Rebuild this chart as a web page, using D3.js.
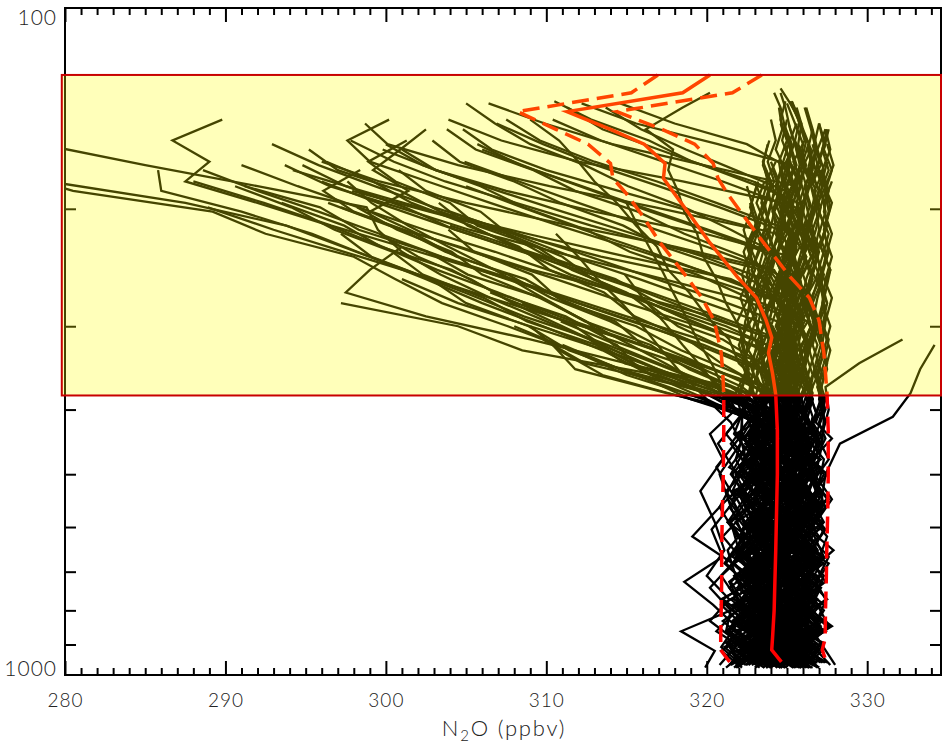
<!DOCTYPE html>
<html>
<head>
<meta charset="utf-8">
<script src="https://cdn.jsdelivr.net/npm/d3@7"></script>
<style>
body { margin: 0; background: #fff; }
text { font-family: Lato, "Open Sans", sans-serif; font-weight: 300; fill: #222; }
</style>
</head>
<body>
<script>
// pressure levels (hPa) of the soundings; profiles cycle through three slightly offset grids
var levelsA = [975, 920, 860, 800, 740, 680, 620, 560, 500, 450, 410, 378, 348, 320, 295, 272, 251, 232, 215, 199, 185, 172, 160, 149, 139, 132];
var levelsB = [966, 895, 830, 770, 710, 650, 590, 530, 475, 435, 400, 370, 341, 314, 290, 267, 247, 228, 212, 196, 182, 170, 158, 147, 138, 131];
var levelsC = [958, 908, 845, 785, 725, 665, 605, 545, 488, 442, 418, 386, 355, 326, 300, 277, 255, 236, 218, 202, 188, 175, 163, 152, 141, 134];

// N2O (ppbv) per profile, one value per level from the surface up; the profile ends where the list ends
var n2oProfiles = [
  // staying at tropospheric values up to the top
  [324.6, 322.9, 325.3, 324.8, 323.1, 325.0, 322.8, 324.9, 326.0, 323.7, 325.0, 324.5, 324.9, 325.3, 324.8, 325.2, 325.6, 325.1, 325.4, 324.9, 325.5, 325.0, 325.3, 324.8],
  [322.1, 321.4, 323.5, 321.7, 322.2, 323.8, 321.3, 322.7, 323.6, 322.0, 323.2, 322.7, 323.0, 323.5, 322.9, 323.3, 322.8, 323.4, 323.0, 323.6, 324.0, 323.5, 323.9],
  [327.1, 325.4, 326.7, 327.3, 325.6, 326.2, 327.4, 325.9, 326.5, 327.2, 326.6, 327.1, 326.8, 326.4, 326.9, 326.6, 327.2, 326.9, 326.5, 327.0, 326.7, 327.3, 326.9, 327.4],
  [325.9, 324.0, 324.9, 326.4, 324.5, 325.7, 323.8, 325.6, 326.3, 324.6, 326.0, 325.5, 325.9, 326.3, 325.8, 326.1, 326.5, 326.0, 326.4, 325.9, 325.6, 326.2, 325.7, 325.9, 325.2, 324.6],
  [323.6, 322.0, 324.4, 323.1, 322.3, 324.6, 322.9, 321.9, 324.1, 323.3, 323.0, 323.6, 323.2, 323.9, 323.4, 323.1, 323.7, 324.1, 323.6, 324.0, 323.7, 324.3],
  [327.4, 326.0, 327.6, 326.9, 325.8, 327.3, 326.5, 327.8, 326.4, 326.9, 327.4, 327.0, 327.3, 327.7, 327.2, 327.5, 327.1, 327.4, 327.8, 327.3, 327.6, 327.2, 327.7, 327.4],
  [321.7, 322.9, 321.2, 321.5, 323.0, 322.4, 321.0, 322.7, 321.6, 323.2, 322.5, 322.0, 322.6, 322.2, 322.4, 322.9, 322.5, 322.8, 323.2, 322.7, 323.1],
  [325.2, 326.4, 324.0, 325.1, 326.2, 324.5, 326.1, 325.4, 324.3, 325.9, 325.3, 325.8, 325.2, 325.5, 326.0, 325.4, 325.7, 325.3, 326.0, 325.6, 325.9, 325.4, 326.1, 325.7, 325.2],
  [323.1, 325.0, 324.2, 322.7, 324.9, 323.6, 325.2, 323.0, 324.4, 324.9, 324.5, 324.0, 324.6, 324.2, 324.5, 325.0, 324.4, 324.8, 325.2, 324.6, 324.9, 325.4, 324.9],
  [326.5, 325.0, 327.2, 326.1, 325.4, 327.0, 325.6, 326.3, 327.3, 325.8, 326.9, 326.4, 326.7, 327.1, 326.6, 326.9, 327.3, 326.7, 327.0, 326.8, 327.4, 326.9, 327.3, 327.0],
  [322.5, 323.8, 321.6, 323.0, 323.9, 322.2, 323.4, 322.0, 323.7, 322.8, 323.3, 322.8, 323.5, 323.0, 323.3, 323.8, 323.2, 323.6, 324.0, 323.4, 323.8, 323.5],
  [326.0, 324.6, 326.8, 325.3, 324.9, 326.6, 325.8, 324.5, 326.4, 325.1, 326.2, 326.6, 326.0, 326.3, 326.8, 326.2, 326.5, 326.9, 326.3, 326.7, 327.0, 326.5, 326.9, 326.6, 326.2],
  [324.3, 325.7, 323.5, 324.8, 325.6, 323.7, 324.6, 325.5, 323.9, 325.0, 325.5, 324.9, 325.2, 325.6, 325.0, 325.3, 325.8, 325.2, 325.6, 326.0, 325.4, 325.8, 325.5, 325.1],
  [321.4, 322.6, 321.0, 322.9, 321.8, 321.3, 322.7, 321.6, 322.5, 321.2, 322.4, 322.7, 322.2, 322.9, 322.5, 322.8, 323.3, 322.7, 323.1, 323.5, 323.0],
  [327.3, 326.2, 327.5, 325.9, 326.8, 327.6, 326.0, 327.2, 326.5, 327.4, 327.0, 327.4, 326.9, 327.3, 327.7, 327.2, 327.4, 327.8, 327.3, 327.6, 327.4, 327.8, 327.3, 327.6],
  [323.0, 324.7, 323.4, 322.6, 324.4, 323.3, 324.8, 322.8, 324.0, 323.5, 324.2, 323.7, 324.0, 324.5, 323.9, 324.2, 324.7, 324.1, 324.5, 324.9, 324.3, 324.7, 325.1, 324.6],
  [326.6, 325.0, 326.1, 326.9, 325.2, 326.4, 325.6, 327.0, 325.3, 326.7, 326.1, 326.6, 326.0, 326.4, 326.8, 326.2, 326.6, 327.0, 326.4, 326.8, 327.1, 326.6],
  [325.0, 323.8, 326.0, 324.7, 323.9, 325.8, 324.2, 325.4, 326.1, 324.4, 325.5, 325.9, 325.3, 325.6, 326.0, 325.5, 325.8, 326.2, 325.6, 326.0, 325.7, 326.1, 325.6, 325.2, 324.9, 324.6],
  [322.2, 320.9, 322.9, 321.6, 322.7, 321.2, 322.4, 323.0, 321.5, 322.6, 323.0, 323.4, 322.8, 323.1, 323.6, 323.0, 323.3, 323.8, 323.2, 323.6, 324.0, 323.5, 323.8],
  [328.0, 327.1, 326.2, 327.4, 326.6, 325.9, 327.3, 326.2, 327.6, 326.8, 327.4, 326.9, 327.3, 327.6, 327.0, 327.4, 327.7, 327.1, 327.4, 327.8, 327.2, 327.5],
  [323.8, 322.3, 324.2, 323.0, 322.5, 324.3, 322.8, 323.9, 324.5, 322.9, 323.9, 323.4, 324.1, 323.7, 324.0, 324.5, 323.9, 324.3, 324.7, 324.1, 324.5, 324.9, 324.3, 324.7, 324.5],
  [326.1, 326.8, 324.8, 325.5, 326.6, 325.1, 326.3, 327.0, 325.4, 326.2, 326.6, 326.1, 326.4, 326.9, 326.3, 326.6, 327.0, 326.4, 326.8, 327.1, 326.5, 326.9, 326.6],
  [324.9, 323.4, 325.5, 324.1, 323.6, 325.3, 324.7, 323.5, 325.2, 324.0, 324.7, 325.2, 324.6, 325.0, 325.4, 324.8, 325.2, 325.6, 325.0, 325.4, 325.7, 325.1, 325.5],
  [322.8, 324.1, 322.4, 323.3, 324.2, 322.6, 323.8, 322.5, 324.0, 323.1, 323.2, 323.7, 323.1, 323.4, 323.9, 323.3, 323.6, 324.1, 323.5, 323.9, 324.2, 323.7],
  [326.4, 325.3, 327.0, 325.7, 326.3, 327.1, 325.5, 326.6, 325.8, 327.0, 326.0, 326.5, 325.9, 326.3, 326.8, 326.2, 326.6, 327.0, 326.4, 326.8, 326.5, 327.1, 326.7, 327.0],
  [325.6, 324.3, 325.0, 326.2, 324.6, 325.3, 326.1, 324.8, 325.7, 324.7, 325.9, 325.4, 326.0, 325.7, 325.3, 325.9, 325.6, 326.2, 325.6, 326.0, 326.4, 325.9, 326.2, 325.7, 325.3],
  [323.3, 324.3, 322.6, 323.8, 322.9, 324.6, 323.7, 322.6, 324.2, 323.4, 323.9, 324.4, 323.8, 324.2, 324.7, 324.1, 324.5, 324.9, 324.3, 324.7, 325.1],
  [327.0, 325.7, 326.5, 327.3, 325.9, 326.9, 327.5, 326.0, 326.8, 327.2, 327.3, 327.0, 327.5, 327.2, 327.4, 327.8, 327.2, 327.6, 327.3, 327.7, 327.4, 327.9, 327.5],
  [324.1, 325.2, 323.2, 324.5, 325.3, 323.9, 324.7, 325.6, 323.8, 324.9, 325.1, 324.8, 325.4, 325.0, 325.3, 325.8, 325.1, 325.5, 325.9, 325.2, 325.6, 326.0, 325.5, 325.8, 325.3],
  [325.5, 326.5, 324.8, 325.8, 326.6, 324.9, 325.7, 326.8, 325.2, 325.9, 325.8, 326.3, 325.6, 326.0, 326.5, 325.9, 326.2, 326.7, 326.1, 326.5, 326.8, 326.3, 326.6],
  [325.8, 323.2, 326.9, 324.1, 322.6, 326.3, 324.9, 322.8, 325.7, 327.0, 324.5, 325.0, 324.3, 324.8, 325.3, 324.6, 325.0, 324.4, 324.9, 325.4, 324.8, 325.2, 324.9],
  [322.8, 325.4, 321.9, 324.6, 326.1, 323.0, 321.8, 324.9, 322.7, 325.2, 323.5, 324.0, 323.6, 323.2, 323.8, 323.5, 324.1, 323.4, 323.9, 323.6, 324.2, 323.8, 324.3, 324.0],
  [326.9, 324.5, 323.3, 326.4, 327.2, 324.8, 326.6, 323.9, 326.8, 324.7, 326.4, 325.9, 326.3, 325.8, 326.5, 326.1, 326.6, 326.0, 326.7, 326.3, 326.0, 326.6, 326.3],
  [323.9, 326.2, 324.7, 322.1, 325.0, 326.5, 323.5, 325.8, 321.9, 324.3, 325.2, 324.6, 325.0, 325.5, 324.8, 325.2, 324.7, 325.4, 325.0, 324.6, 325.3, 324.9],
  [321.5, 323.9, 322.4, 320.9, 323.6, 321.8, 324.2, 322.1, 323.0, 321.7, 322.3, 322.9, 322.2, 322.7, 323.1, 322.5, 323.0, 322.6, 323.3, 322.8, 323.2],
  [327.5, 325.7, 327.8, 326.0, 324.6, 327.1, 325.3, 327.6, 325.9, 326.8, 326.6, 327.2, 326.8, 327.4, 326.9, 327.3, 327.0, 327.5, 327.0, 327.4, 327.1, 327.6, 327.2, 327.5],
  [324.7, 322.4, 325.9, 323.3, 326.4, 324.0, 322.9, 326.0, 323.8, 325.6, 325.8, 325.1, 325.6, 325.0, 325.7, 325.3, 325.9, 325.2, 325.7, 326.0, 325.4, 325.8, 326.0, 325.5, 325.0],
  [325.1, 327.3, 324.2, 326.8, 325.5, 323.6, 326.7, 324.4, 327.1, 325.3, 325.4, 326.1, 325.7, 326.3, 325.6, 326.0, 325.7, 326.2, 325.9, 326.1, 326.5, 326.0, 326.4],
  [322.3, 321.1, 323.8, 322.0, 324.1, 321.6, 323.2, 324.5, 321.4, 322.9, 324.0, 323.5, 323.9, 324.4, 323.8, 324.2, 323.7, 324.3, 323.9, 324.2, 324.6, 324.1],
  [326.3, 324.9, 327.4, 325.0, 326.6, 327.6, 324.6, 326.1, 327.5, 325.4, 326.9, 326.4, 327.1, 326.6, 327.0, 326.5, 327.2, 326.8, 327.4, 326.9, 327.2, 326.9, 327.4, 327.0],
  [323.4, 325.1, 322.5, 324.8, 322.9, 325.5, 323.2, 322.4, 324.7, 326.0, 324.2, 324.8, 324.1, 324.5, 325.0, 324.4, 324.8, 324.2, 324.9, 324.5, 324.8, 325.2, 324.7, 325.0],
  [324.9, 326.5, 323.7, 325.3, 327.0, 324.3, 325.8, 326.7, 324.1, 326.3, 325.3, 325.8, 325.2, 325.9, 325.5, 326.1, 325.4, 325.8, 326.2, 325.6, 326.0, 325.7],
  [321.9, 323.3, 321.2, 322.6, 321.4, 323.5, 321.9, 320.8, 322.9, 321.5, 322.8, 322.1, 322.6, 322.3, 321.9, 322.6, 322.2, 322.7, 322.3, 322.9, 322.5],
  [327.7, 326.4, 325.2, 327.5, 326.1, 327.9, 325.8, 326.9, 327.3, 326.0, 327.3, 326.9, 327.5, 327.1, 327.4, 327.2, 327.7, 327.1, 327.5, 327.3, 327.8],
  [324.4, 322.0, 325.5, 323.8, 321.9, 324.9, 326.0, 323.4, 325.8, 322.6, 324.8, 324.3, 325.0, 324.5, 325.1, 324.6, 325.0, 324.7, 325.2, 324.6, 324.9, 324.7, 325.3, 324.9, 324.6, 324.2],
  [325.6, 324.1, 326.9, 324.7, 323.5, 326.5, 325.0, 327.1, 324.4, 326.2, 326.1, 326.6, 325.9, 326.3, 325.8, 326.5, 326.0, 326.7, 326.0, 326.4, 326.1, 326.7, 326.3],
  [322.6, 324.4, 323.1, 321.5, 324.0, 322.7, 321.3, 323.9, 322.2, 324.2, 322.8, 323.2, 322.7, 323.4, 322.9, 323.5, 322.8, 323.3, 323.7, 323.1, 323.6],
  [326.8, 325.2, 323.9, 326.1, 324.5, 327.2, 325.6, 324.2, 326.6, 325.0, 325.9, 326.6, 326.2, 325.8, 326.5, 326.0, 326.8, 326.1, 325.9, 326.6, 326.2, 326.8, 326.3, 326.6],
  [323.7, 325.8, 324.4, 326.3, 323.6, 325.1, 326.5, 323.3, 324.8, 326.1, 324.6, 325.2, 324.8, 325.4, 324.7, 325.3, 324.9, 325.5, 325.0, 324.7, 325.4, 325.0, 325.3],
  [325.3, 323.0, 324.6, 322.3, 325.7, 323.9, 322.6, 325.3, 323.6, 324.5, 324.1, 324.6, 324.0, 324.7, 324.4, 323.9, 324.6, 324.2, 324.8, 324.3, 324.7, 324.5, 325.0, 324.6, 324.9],
  [327.2, 326.0, 327.7, 325.5, 327.4, 326.3, 325.1, 327.5, 326.1, 327.8, 326.8, 327.3, 326.7, 327.2, 326.9, 327.5, 326.8, 327.2, 327.6, 327.0, 327.4, 327.1],
  [324.0, 322.7, 325.1, 323.2, 324.9, 322.5, 325.6, 324.2, 322.9, 325.0, 325.3, 324.8, 325.5, 325.0, 324.7, 325.4, 325.0, 325.6, 325.1, 325.4, 325.0, 325.6, 325.2],
  [322.0, 321.3, 322.8, 321.0, 323.3, 321.9, 322.4, 321.2, 323.1, 322.2, 322.2, 322.8, 322.5, 322.1, 322.9, 322.4, 323.0, 322.5, 323.1, 322.7],
  [326.0, 327.2, 325.3, 326.7, 324.9, 326.4, 327.3, 325.5, 326.9, 325.7, 326.2, 325.9, 326.6, 326.1, 326.8, 326.2, 326.5, 326.9, 326.2, 326.6, 327.0, 326.4, 326.8, 326.5, 326.1],
  [324.6, 323.5, 326.2, 324.3, 322.8, 325.3, 324.0, 326.4, 323.1, 324.9, 324.9, 325.5, 324.8, 325.3, 325.7, 325.0, 325.4, 324.9, 325.6, 325.2, 324.9, 325.5, 325.1, 325.6],
  [323.2, 324.6, 322.2, 323.7, 325.2, 322.8, 324.5, 322.3, 323.9, 324.8, 323.6, 324.1, 323.8, 324.4, 323.7, 324.2, 324.6, 323.9, 324.3, 324.0, 324.5, 324.0],
  [325.9, 324.3, 325.5, 327.0, 324.8, 326.0, 324.6, 326.8, 325.2, 324.0, 326.2, 325.6, 326.0, 326.4, 325.7, 326.1, 325.8, 326.5, 326.0, 325.7, 326.3, 325.9, 326.5, 326.0, 325.6],
  [321.2, 322.5, 320.6, 321.9, 322.8, 321.1, 322.3, 321.5, 320.8, 322.1, 322.2, 321.8, 322.5, 322.0, 322.6, 322.1, 322.7, 322.3, 322.9],
  // leaving the tropospheric band and falling off toward low values aloft
  [324.8, 323.2, 325.4, 324.0, 322.9, 325.1, 323.6, 324.7, 325.5, 323.9, 324.0, 320.5, 316.8, 312.9, 308.6, 304.9, 301.2, 297.3, 293.8, 287.5, 279.0],
  [322.7, 321.5, 323.6, 322.1, 321.4, 323.3, 322.5, 321.6, 323.4, 322.3, 323.0, 319.8, 315.5, 311.6, 307.6, 303.5, 300.6, 298.0, 292.5, 289.2, 280.5, 276.0],
  [326.2, 324.7, 325.8, 326.6, 324.9, 326.3, 325.0, 326.5, 325.2, 325.9, 323.5, 320.8, 317.0, 313.5, 310.0, 306.5, 303.4, 301.0, 299.5, 298.8, 292.0, 285.0, 278.5],
  [323.9, 322.5, 324.6, 323.2, 322.4, 324.2, 322.8, 324.5, 323.5, 322.7, 324.0, 322.2, 319.0, 315.0, 310.8, 307.0, 303.2, 299.8, 296.5, 292.0, 287.5, 289.0, 286.7, 289.8],
  [325.3, 326.5, 324.4, 325.9, 326.3, 324.6, 325.8, 326.4, 324.9, 325.6, 323.0, 320.0, 316.5, 313.5, 309.8, 306.0, 302.5, 299.0, 295.4, 291.0, 286.0, 285.8],
  [324.4, 323.0, 325.0, 323.8, 322.7, 324.8, 323.4, 325.2, 324.1, 323.5, 324.6, 323.9, 320.5, 316.0, 311.3, 306.5, 302.0, 297.4, 293.0, 288.9],
  [326.8, 325.5, 327.2, 326.0, 325.3, 326.9, 325.7, 327.1, 326.3, 325.8, 325.0, 324.3, 323.5, 319.6, 315.0, 310.4, 305.8, 301.0, 296.6, 292.4, 288.0],
  [322.0, 323.4, 321.5, 322.8, 323.5, 321.9, 322.6, 323.7, 322.1, 323.0, 324.1, 323.4, 324.0, 320.3, 316.4, 312.0, 307.9, 303.5, 299.6, 295.8, 292.0, 288.6],
  [324.9, 326.0, 324.3, 325.5, 326.1, 324.4, 325.3, 326.2, 324.7, 325.4, 324.5, 325.3, 324.6, 323.8, 319.7, 315.5, 311.0, 306.8, 302.4, 298.3, 294.5, 291.0],
  [323.4, 322.1, 324.0, 322.9, 321.8, 323.6, 322.4, 324.1, 323.0, 322.6, 325.3, 324.7, 325.0, 324.2, 320.0, 316.2, 312.0, 307.5, 303.6, 299.5, 296.0],
  [325.7, 324.2, 326.3, 325.0, 324.3, 326.1, 324.8, 325.9, 326.4, 324.6, 324.8, 324.1, 324.6, 323.9, 319.5, 315.0, 310.6, 306.3, 302.0, 299.0, 301.4, 299.2, 300.9, 302.5],
  [321.8, 323.1, 321.3, 322.4, 323.3, 321.6, 322.8, 321.4, 323.2, 322.5, 323.7, 324.5, 323.6, 324.8, 324.4, 320.4, 316.0, 311.8, 307.4, 303.0, 299.3, 295.8, 292.9],
  [326.3, 327.1, 325.4, 326.6, 327.3, 325.7, 326.4, 327.2, 325.6, 326.9, 325.9, 325.1, 325.8, 324.9, 325.4, 323.7, 319.5, 315.0, 310.8, 306.5, 302.6, 299.0, 297.6, 300.2],
  [323.2, 324.5, 322.7, 323.9, 324.7, 322.9, 324.1, 323.0, 324.6, 323.7, 324.3, 325.0, 324.2, 325.1, 324.4, 325.2, 323.6, 319.8, 315.4, 311.0, 307.0, 303.1, 301.0],
  [325.0, 323.6, 325.7, 324.4, 323.5, 325.4, 324.0, 325.6, 324.6, 323.9, 325.4, 324.7, 325.6, 324.8, 325.7, 324.9, 325.3, 324.0, 320.1, 316.0, 312.2, 308.4, 305.7],
  [322.4, 321.2, 322.8, 321.9, 320.9, 322.6, 321.5, 322.9, 321.8, 322.3, 323.2, 324.0, 323.4, 324.2, 323.6, 324.5, 323.8, 324.6, 324.4, 320.6, 316.9, 313.0, 309.6, 307.5],
  [324.2, 325.6, 323.7, 324.9, 325.7, 323.8, 325.0, 325.8, 324.3, 325.1, 323.1, 319.8, 315.0, 311.6, 308.0],
  [326.9, 325.8, 327.3, 326.2, 325.6, 327.0, 326.1, 327.4, 326.5, 326.0, 324.0, 320.1, 314.6, 311.0],
  [323.6, 322.2, 324.3, 323.0, 322.1, 323.9, 322.7, 324.4, 323.3, 322.9, 324.4, 323.6, 319.2, 314.8, 310.3, 306.5],
  [325.4, 324.1, 325.9, 324.6, 323.9, 325.7, 324.5, 326.0, 324.9, 324.4, 323.3, 322.8, 318.0, 313.7, 309.0, 304.5, 301.0],
  [321.9, 323.3, 321.4, 322.7, 323.4, 321.7, 322.9, 323.5, 322.0, 322.8, 324.9, 324.2, 323.5, 319.8, 315.3, 311.0, 306.7, 302.5],
  [324.7, 326.0, 324.1, 325.4, 326.1, 324.2, 325.2, 326.3, 324.5, 325.5, 325.2, 324.5, 325.1, 324.6, 320.7, 316.5, 312.4, 308.0, 304.0],
  [323.0, 321.7, 323.7, 322.4, 321.5, 323.2, 322.2, 323.8, 322.6, 322.1, 323.9, 324.6, 323.8, 324.9, 324.1, 320.0, 315.8, 311.6, 307.9, 304.0],
  [326.0, 324.8, 326.5, 325.2, 324.6, 326.2, 325.4, 326.6, 325.0, 325.7, 325.6, 324.9, 325.4, 324.7, 325.3, 324.2, 320.3, 316.4, 312.3, 308.5, 305.0],
  [324.5, 323.1, 325.2, 323.8, 323.0, 324.9, 323.6, 325.3, 324.2, 323.7, 324.3, 325.0, 324.4, 325.2, 324.5, 325.0, 323.9, 320.0, 316.1, 312.0, 308.3, 304.9],
  [322.9, 324.2, 322.3, 323.5, 324.3, 322.6, 323.7, 324.4, 322.8, 323.6, 325.8, 325.1, 325.7, 325.0, 325.6, 324.8, 325.2, 324.4, 320.6, 316.5, 312.9, 309.3, 306.0],
  [325.8, 327.0, 325.1, 326.4, 327.1, 325.3, 326.2, 327.2, 325.5, 326.6, 324.7, 325.4, 324.8, 325.5, 324.9, 325.6, 325.0, 325.3, 324.5, 320.8, 317.0, 313.1, 309.8, 306.9],
  [324.0, 322.8, 324.7, 323.4, 322.6, 324.4, 323.2, 324.8, 323.7, 323.1, 325.1, 324.5, 325.3, 324.6, 325.4, 324.8, 325.5, 324.9, 325.4, 324.6, 321.0, 317.3, 313.4, 310.4],
  [326.7, 325.4, 327.1, 325.9, 325.2, 326.8, 325.6, 327.0, 326.2, 325.5, 325.9, 326.6, 325.7, 326.4, 325.8, 326.5, 325.6, 326.2, 325.3, 325.9, 324.0, 320.6, 317.0, 313.5, 311.3],
  [323.5, 324.8, 322.9, 324.1, 325.0, 323.1, 324.3, 325.1, 323.4, 324.2, 324.8, 325.5, 324.6, 325.3, 324.7, 325.4, 324.5, 325.2, 324.6, 325.1, 324.3, 324.8, 322.5, 318.0, 314.6],
  [325.1, 323.9, 325.6, 324.3, 323.7, 325.4, 324.2, 325.7, 324.8, 324.1, 323.6, 318.6, 312.4, 309.8],
  [322.6, 323.9, 322.1, 323.4, 324.0, 322.3, 323.5, 324.1, 322.7, 323.6, 324.2, 319.0, 313.5, 310.8, 309.0],
  [326.5, 325.1, 327.0, 325.7, 324.9, 326.7, 325.4, 326.9, 325.9, 325.3, 323.9, 317.5, 311.8, 310.4],
  [324.4, 325.5, 323.6, 324.8, 325.6, 323.9, 324.9, 325.7, 324.1, 325.0, 324.4, 323.6, 322.0, 321.4, 320.0, 318.9, 317.6, 316.9, 315.6, 314.4, 313.0, 312.0, 310.8, 309.0],
  [323.8, 322.6, 324.5, 323.2, 322.5, 324.1, 323.0, 324.6, 323.6, 322.9, 324.9, 324.1, 323.5, 322.6, 322.0, 321.2, 320.6, 319.8, 319.4, 318.6, 318.2, 317.6, 317.9, 316.2, 318.5, 320.2],
  [324.1, 322.2, 325.3, 323.6, 321.9, 324.8, 323.0, 325.4, 322.7, 324.5, 323.8, 322.4, 318.9, 316.5, 312.4, 309.7, 305.1, 302.6, 298.3, 295.9, 291.2],
  [326.1, 324.8, 323.4, 326.5, 324.9, 323.7, 326.2, 324.3, 325.8, 326.6, 325.0, 321.7, 318.3, 313.9, 311.2, 306.8, 304.1, 299.7, 297.4, 293.5],
  [322.9, 324.6, 323.3, 321.8, 324.1, 322.5, 324.9, 323.7, 322.2, 324.0, 324.6, 323.9, 322.1, 318.4, 315.6, 311.3, 308.7, 304.4, 301.8, 298.0, 296.1, 298.4],
  [325.5, 323.9, 326.7, 324.2, 325.9, 327.0, 324.6, 326.3, 323.8, 325.2, 325.8, 324.6, 325.2, 322.9, 319.0, 315.8, 311.5, 308.6, 304.3, 301.2, 297.5, 294.8],
  [323.5, 322.0, 324.9, 322.6, 321.7, 324.3, 323.1, 321.9, 324.6, 323.3, 322.8, 320.1, 317.4, 314.6, 311.9, 309.2, 306.8, 303.9, 301.4, 299.1, 297.6],
  [324.8, 326.3, 325.0, 323.4, 326.0, 324.2, 322.9, 325.6, 324.4, 326.1, 324.3, 325.1, 323.8, 324.5, 321.2, 317.0, 314.3, 310.1, 307.5, 303.4, 300.9, 297.0, 295.2],
  [326.6, 324.4, 327.1, 325.8, 324.0, 326.7, 325.3, 327.4, 324.8, 326.0, 326.2, 325.3, 326.0, 325.4, 326.3, 322.6, 319.4, 315.2, 312.5, 308.6, 305.9, 302.3, 300.0],
  [322.4, 323.9, 321.7, 323.4, 324.3, 322.0, 321.5, 323.8, 322.6, 324.2, 323.4, 324.1, 323.0, 324.3, 323.5, 324.2, 321.6, 317.3, 314.8, 310.9, 308.0, 304.6, 302.9],
  [325.2, 326.8, 324.3, 325.6, 323.8, 326.4, 325.1, 323.9, 326.6, 325.0, 325.3, 324.6, 325.7, 324.9, 325.5, 324.4, 325.0, 322.3, 318.6, 315.7, 311.8, 309.2, 305.6, 303.8],
  [323.8, 322.5, 325.0, 323.2, 325.4, 322.8, 324.6, 323.4, 325.1, 322.9, 324.8, 323.8, 320.4, 316.9, 314.0, 310.3, 307.6, 303.7, 301.0, 297.2],
  [326.3, 325.0, 327.0, 324.6, 326.5, 325.3, 327.2, 324.9, 325.9, 326.8, 325.7, 324.9, 325.5, 321.9, 318.4, 314.9, 311.7, 308.0, 305.3, 301.6, 299.2, 296.3],
  [321.6, 323.0, 322.3, 320.9, 323.4, 321.8, 322.7, 321.3, 323.6, 322.4, 323.1, 320.6, 317.6, 314.2, 311.0, 307.9, 305.3, 302.0, 299.6],
  [324.6, 323.3, 325.8, 324.0, 322.6, 325.1, 324.3, 326.0, 323.5, 324.9, 325.0, 324.2, 325.4, 324.0, 325.1, 324.3, 324.9, 324.1, 321.5, 318.6, 315.1, 312.4, 309.0, 306.8, 305.0],
  [325.7, 324.1, 326.4, 325.2, 323.9, 326.8, 324.7, 325.9, 327.0, 324.5, 325.9, 326.4, 325.2, 326.1, 325.5, 326.3, 325.0, 325.8, 325.1, 325.7, 322.9, 319.1, 316.4, 312.8, 310.5],
  [323.1, 324.8, 322.8, 324.3, 322.4, 323.9, 325.1, 323.0, 324.7, 323.6, 323.5, 319.0, 315.7, 311.4, 308.9, 305.0, 302.8, 299.1, 297.2],
  [326.0, 327.2, 325.5, 324.3, 326.9, 325.1, 327.0, 325.7, 324.4, 326.4, 324.7, 320.9, 316.2, 313.1, 308.8, 306.1, 302.3, 300.4, 296.8, 294.1, 290.6],
  [324.3, 322.6, 324.0, 325.4, 323.1, 325.0, 322.8, 324.6, 325.6, 323.4, 324.2, 323.5, 320.9, 318.8, 315.5, 313.6, 310.2, 308.3, 305.1, 303.3],
  [322.7, 324.0, 321.9, 323.2, 324.5, 322.1, 323.6, 324.3, 322.0, 323.5, 324.0, 323.2, 323.9, 321.4, 318.2, 316.3, 312.9, 311.0, 307.6, 305.9, 302.5, 300.8],
  [325.4, 323.8, 326.1, 324.5, 326.3, 323.9, 325.7, 324.2, 326.5, 324.8, 324.4, 321.3, 319.6, 316.0, 314.3, 310.7, 309.1, 305.5, 303.9],
  [324.0, 325.5, 323.2, 324.7, 322.9, 325.3, 323.7, 325.6, 323.4, 324.6, 323.9, 324.5, 323.4, 321.0, 317.0, 315.0, 311.6, 309.4, 305.7, 304.0, 300.6, 298.9, 301.3],
  [326.4, 325.0, 324.1, 326.7, 325.4, 327.1, 324.8, 326.0, 325.2, 326.9, 325.4, 324.6, 325.3, 324.5, 325.2, 324.4, 325.1, 324.3, 325.0, 324.2, 324.9, 321.8, 318.7, 315.9, 313.7],
  [323.3, 321.9, 324.4, 322.5, 323.8, 321.6, 324.0, 322.9, 321.8, 323.7, 322.6, 321.8, 317.9, 314.2, 312.5, 309.6, 306.0, 304.1, 300.7, 298.2],
  [324.5, 323.1, 325.6, 324.0, 322.7, 325.0, 323.6, 325.3, 324.2, 323.0, 323.2, 320.5, 314.9, 312.7],
  [325.9, 324.6, 326.3, 325.1, 323.9, 326.1, 324.7, 326.6, 325.3, 324.4, 324.5, 321.8, 316.6, 313.9, 311.8, 308.5],
  [323.0, 324.4, 322.5, 323.8, 324.5, 322.7, 323.9, 322.4, 324.2, 323.3, 322.9, 319.9, 315.8, 314.4, 310.9],
  // leaving the band higher up, with flatter slopes
  [325.0, 322.6, 324.7, 326.8, 323.4, 325.9, 322.9, 326.3, 324.0, 321.8, 324.6, 325.3, 324.5, 325.2, 324.4, 325.0, 324.2, 318.0, 311.5, 305.0, 299.6, 296.0],
  [323.1, 326.0, 324.3, 321.9, 325.4, 323.6, 326.7, 322.5, 325.1, 323.9, 325.1, 324.4, 325.6, 324.8, 325.3, 324.6, 321.5, 315.0, 308.8, 303.0, 298.5, 294.2],
  [326.4, 323.8, 321.7, 325.2, 327.1, 324.5, 322.3, 325.8, 323.2, 326.5, 323.8, 324.5, 323.6, 324.3, 323.5, 324.1, 323.4, 324.0, 323.2, 316.8, 310.2, 304.5, 300.1, 298.7],
  [322.4, 324.9, 326.9, 323.7, 322.0, 325.6, 324.1, 321.6, 326.2, 324.8, 325.8, 325.0, 325.7, 325.1, 325.9, 325.2, 325.6, 325.0, 325.4, 324.8, 318.5, 312.0, 307.2, 303.9],
  [324.2, 326.6, 323.0, 325.3, 321.9, 324.4, 327.0, 323.8, 322.2, 325.5, 324.1, 324.9, 324.2, 325.0, 324.3, 324.8, 320.1, 313.4, 308.0, 302.7, 297.9],
  [327.0, 324.6, 326.3, 322.8, 325.1, 327.3, 324.2, 326.6, 323.4, 325.7, 326.2, 325.5, 326.0, 325.3, 326.1, 325.4, 325.9, 325.2, 325.8, 325.0, 325.6, 319.8, 314.1, 309.9, 306.4],
  [321.8, 323.5, 325.7, 322.4, 324.6, 322.0, 325.2, 323.0, 326.1, 323.6, 323.5, 324.2, 323.4, 324.1, 320.3, 314.8, 309.1, 304.6, 300.2, 296.4],
  [325.5, 327.2, 324.0, 322.7, 326.4, 324.8, 322.6, 325.9, 327.1, 324.2, 324.9, 325.6, 324.8, 325.5, 324.7, 325.4, 324.6, 325.3, 319.9, 313.0, 307.5, 303.1, 299.8],
  [323.6, 321.9, 324.8, 326.5, 323.1, 321.7, 324.3, 326.8, 324.5, 322.4, 325.4, 324.7, 325.5, 324.9, 325.6, 325.0, 325.7, 325.1, 325.8, 325.2, 325.9, 325.3, 320.7, 315.6, 312.2],
  [326.2, 324.1, 322.8, 325.0, 326.9, 323.5, 325.6, 322.9, 324.7, 326.4, 323.9, 324.6, 323.7, 324.4, 323.6, 324.3, 323.5, 317.6, 312.8, 308.1, 303.7, 300.5, 297.8],
  [322.7, 325.3, 323.8, 321.6, 324.9, 326.2, 323.3, 324.6, 322.1, 325.0, 324.7, 325.4, 324.6, 325.3, 324.5, 325.2, 324.4, 325.1, 324.3, 319.1, 314.5, 310.0, 306.6, 304.8],
  [324.9, 322.2, 326.1, 324.4, 327.0, 325.2, 322.9, 324.0, 326.3, 323.1, 325.6, 324.9, 325.7, 325.0, 325.8, 321.9, 316.2, 310.5, 305.2, 300.8, 296.5, 293.7],
  // low level excursions
  [324.3, 323.0, 324.9, 323.6, 322.8, 324.7, 323.3, 325.0, 324.0, 323.4, 323.6, 321.5, 315.0, 309.0, 302.5, 297.5, 299.0, 301.0],
  [322.8, 324.1, 322.3, 323.5, 324.2, 322.4, 323.6, 324.3, 322.9, 323.7, 322.9, 321.0, 317.0, 308.5, 304.5, 297.2],
  // high outliers
  [324.6, 325.8, 324.9, 326.3, 325.4, 326.8, 326.0, 327.1, 327.4, 328.3, 331.6, 332.7, 333.3, 334.2],
  [325.0, 326.1, 325.2, 326.4, 325.6, 326.9, 325.8, 327.0, 326.4, 327.2, 327.6, 327.4, 329.5, 332.2],
  // low outliers in the troposphere
  [322.0, 320.9, 321.8, 320.4, 318.6, 321.0, 320.3, 321.8, 320.6, 322.0, 321.5, 320.0, 318.5, 317.2, 316.0, 314.7, 313.2, 312.0, 310.6],
  [319.9, 320.5, 318.4, 321.5, 320.2, 321.6, 319.1, 320.8, 321.9, 320.7, 322.1, 320.9, 319.8, 318.5, 317.3, 316.0, 314.9],
  [320.8, 322.0, 320.2, 321.4, 320.0, 321.1, 320.5, 319.6, 321.0, 320.2, 321.8, 321.0, 320.3, 319.4, 318.7, 317.9, 317.2, 316.4, 315.7, 315.0]
];

// mean and spread of all profiles
var statLevels = [126, 134, 143, 152, 160, 171, 180, 190, 205, 225, 253, 272, 294,
                  312, 329, 353, 380, 430, 500, 570, 650, 720, 800, 880, 917, 956];
var meanN2O = [320.2, 318.5, 311.3, 314.0, 316.1, 317.4, 317.3, 318.0, 319.0, 320.2, 321.9, 323.1, 323.7,
               324.05, 323.85, 324.1, 324.3, 324.4, 324.4, 324.35, 324.3, 324.25, 324.2, 324.1, 324.05, 324.65];
var lowN2O = [316.95, 315.3, 308.2, 310.6, 312.6, 314.0, 314.15, 315.0, 316.0, 317.1, 318.75, 319.7, 320.45,
              320.7, 320.9, 321.0, 321.06, 321.06, 321.03, 320.97, 320.93, 320.93, 320.9, 320.87, 320.87, 321.43];
var highN2O = [323.43, 321.6, 314.4, 317.2, 319.25, 320.4, 320.7, 321.3, 322.3, 323.55, 325.2, 326.4, 327.0,
               327.15, 327.3, 327.4, 327.5, 327.57, 327.57, 327.54, 327.48, 327.45, 327.4, 327.38, 327.2, 327.45];

// highlighted layer
var boxPressure = [126, 381];
var boxN2O = [279.8, 334.6];

var xMajorTicks = [280, 290, 300, 310, 320, 330];
var yMinorTicks = [200, 300, 400, 500, 600, 700, 800, 900];
var yLabelTicks = [100, 1000];

var width = 942, height = 747;
var svg = d3.select("body").append("svg")
            .attr("width", width)
            .attr("height", height);

var x = d3.scaleLinear().domain([280, 334.6]).range([65, 941]);
var y = d3.scaleLog().domain([100, 1000]).range([8, 675]);

svg.append("clipPath").attr("id", "plotclip")
   .append("rect")
   .attr("x", x(280)).attr("y", y(100))
   .attr("width", x(334.6) - x(280)).attr("height", y(1000) - y(100));

// profiles
var profileLine = d3.line()
    .defined(function(d) { return d[1] != null; })
    .x(function(d) { return x(d[1]); })
    .y(function(d) { return y(d[0]); });

var grids = [levelsA, levelsB, levelsC];
var plot = svg.append("g").attr("clip-path", "url(#plotclip)");

plot.selectAll("path.profile")
    .data(n2oProfiles)
    .enter().append("path")
        .attr("class", "profile")
        .attr("fill", "none")
        .attr("stroke", "#000")
        .attr("stroke-width", 2.3)
        .attr("d", function(p, k) {
            var levels = grids[k % 3];
            return profileLine(p.map(function(v, i) { return [levels[i], v]; }));
        });

// mean and spread lines
var statLine = function(vals) {
    return d3.line()
        .x(function(d, i) { return x(vals[i]); })
        .y(function(d) { return y(d); })(statLevels);
};
plot.append("path").attr("fill", "none").attr("stroke", "#ff0000")
    .attr("stroke-width", 3.5).attr("d", statLine(meanN2O));
[lowN2O, highN2O].forEach(function(vals) {
    plot.append("path").attr("fill", "none").attr("stroke", "#ff0000")
        .attr("stroke-width", 3.5).attr("stroke-dasharray", "17,8")
        .attr("d", statLine(vals));
});

// axes (ticks inside on all four sides)
function styleAxis(g) {
    g.select(".domain").remove();
    g.selectAll("line").attr("stroke", "#000").attr("stroke-width", 2);
    g.selectAll("text").style("font-size", "19px").style("letter-spacing", "1px").attr("fill", "#222");
}
var xMinor = d3.range(281, 335).filter(function(v) { return v % 10 !== 0; });

svg.append("g").attr("transform", "translate(0," + y(1000) + ")")
   .call(d3.axisBottom(x).tickValues(xMinor).tickSize(-7).tickFormat(""))
   .call(styleAxis);
svg.append("g").attr("transform", "translate(0," + y(1000) + ")")
   .call(d3.axisBottom(x).tickValues(xMajorTicks).tickSize(-14).tickPadding(19).tickFormat(d3.format("d")))
   .call(styleAxis);
svg.append("g").attr("transform", "translate(0," + y(100) + ")")
   .call(d3.axisTop(x).tickValues(xMinor).tickSize(-7).tickFormat(""))
   .call(styleAxis);
svg.append("g").attr("transform", "translate(0," + y(100) + ")")
   .call(d3.axisTop(x).tickValues(xMajorTicks).tickSize(-14).tickFormat(""))
   .call(styleAxis);
svg.append("g").attr("transform", "translate(" + x(280) + ",0)")
   .call(d3.axisLeft(y).tickValues(yMinorTicks).tickSize(-11).tickFormat(""))
   .call(styleAxis);
svg.append("g").attr("transform", "translate(" + x(334.6) + ",0)")
   .call(d3.axisRight(y).tickValues(yMinorTicks).tickSize(-11).tickFormat(""))
   .call(styleAxis);
var yLab = svg.append("g").attr("transform", "translate(" + x(280) + ",0)")
   .call(d3.axisLeft(y).tickValues(yLabelTicks).tickSize(0).tickPadding(8).tickFormat(d3.format("d")))
   .call(styleAxis);
yLab.selectAll("text").style("font-size", "21px")
    .attr("dy", function(d) { return d === 100 ? "0.78em" : "0.02em"; });

svg.append("rect")
   .attr("x", x(280)).attr("y", y(100))
   .attr("width", x(334.6) - x(280)).attr("height", y(1000) - y(100))
   .attr("fill", "none").attr("stroke", "#000").attr("stroke-width", 2);

// translucent yellow layer on top of everything
svg.append("rect")
   .attr("x", x(boxN2O[0])).attr("y", y(boxPressure[0]))
   .attr("width", x(boxN2O[1]) - x(boxN2O[0]))
   .attr("height", y(boxPressure[1]) - y(boxPressure[0]))
   .attr("fill", "#ffff00").attr("fill-opacity", 0.27)
   .attr("stroke", "#c80000").attr("stroke-width", 2);

// x title
var title = svg.append("text")
   .attr("x", 504).attr("y", 736)
   .attr("text-anchor", "middle")
   .style("font-size", "22px")
   .style("letter-spacing", "1.8px");
title.append("tspan").text("N");
title.append("tspan").attr("dy", 5).style("font-size", "15px").text("2");
title.append("tspan").attr("dy", -5).text("O (ppbv)");
</script>
</body>
</html>
